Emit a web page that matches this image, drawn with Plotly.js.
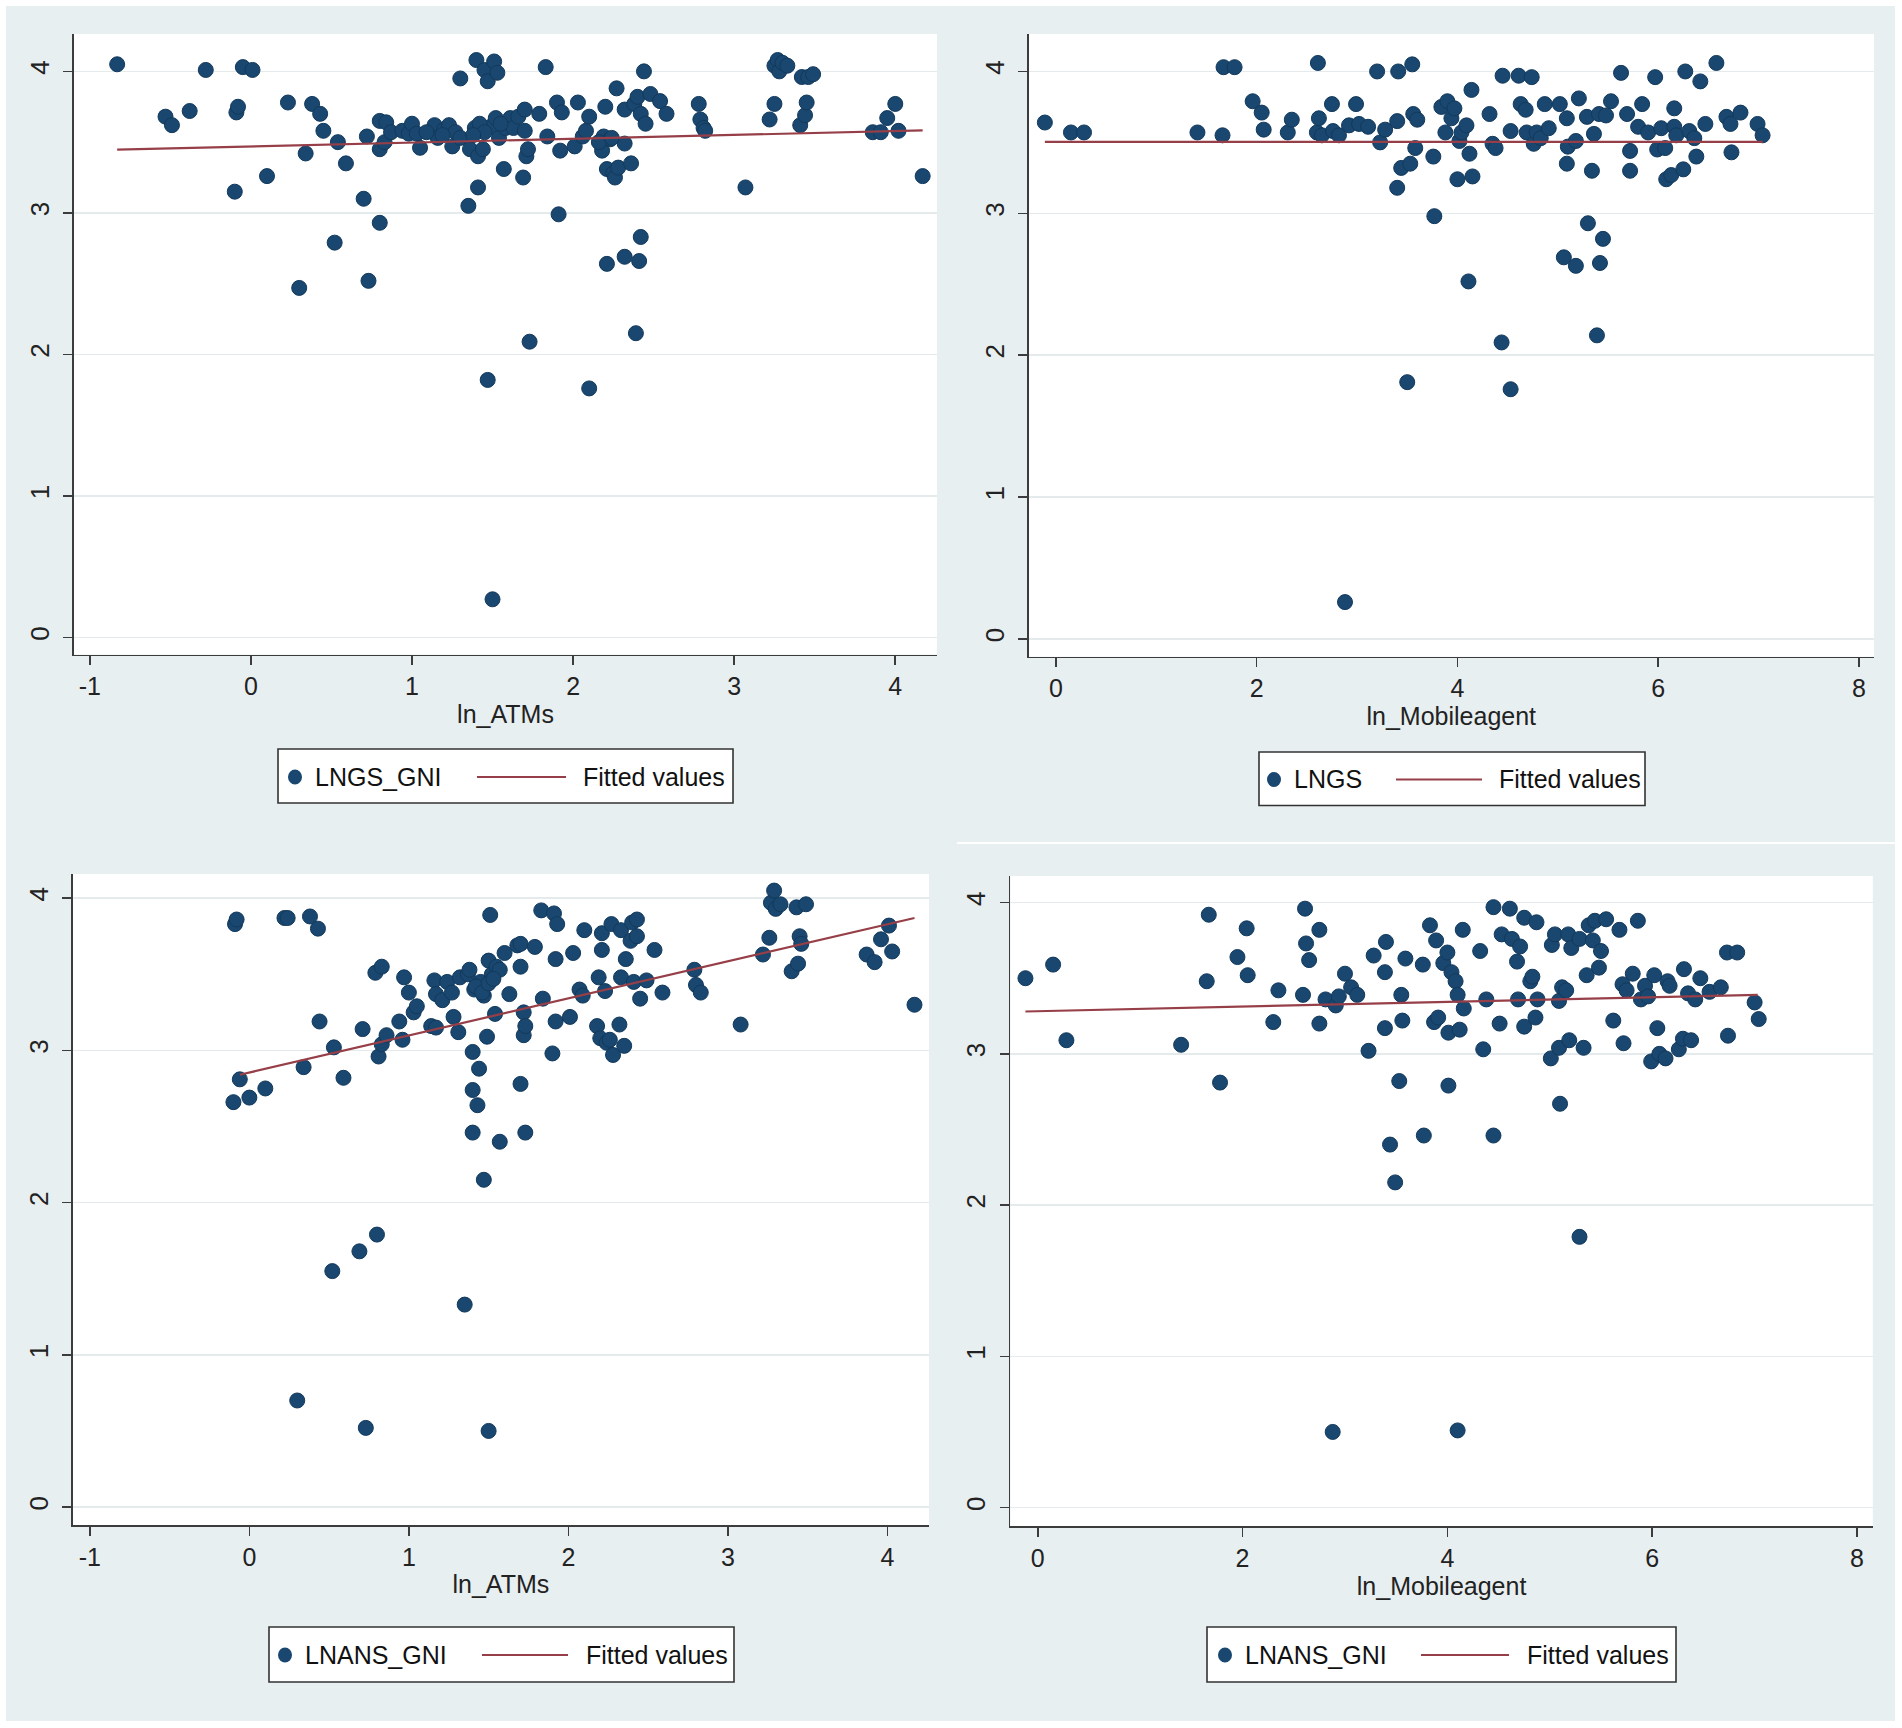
<!DOCTYPE html>
<html>
<head>
<meta charset="utf-8">
<script src="https://cdn.plot.ly/plotly-3.0.1.min.js"></script>
<style>html,body{margin:0;padding:0;background:#fff}#chart{width:1902px;height:1728px}</style>
</head>
<body>
<div id="chart"></div>
<script>
// ---------- DATA ----------
// Top-left: LNGS_GNI vs ln_ATMs
const tlX = [-0.83,-0.53,-0.49,-0.38,-0.28,-0.10,-0.09,-0.08,-0.05,0.01,
  0.10,0.23,0.30,0.34,0.38,0.43,0.45,0.52,0.54,0.59,
  0.70,0.72,0.73,0.80,0.80,0.80,0.83,0.84,0.87,0.94,
  0.98,1.00,1.03,1.05,1.14,1.16,1.20,1.23,1.25,1.27,
  1.30,1.30,1.35,1.36,1.39,1.40,1.41,1.41,1.43,1.44,
  1.45,1.47,1.47,1.49,1.50,1.51,1.52,1.53,1.54,1.57,
  1.58,1.61,1.63,1.66,1.69,1.70,1.70,1.71,1.72,1.73,
  1.79,1.83,1.84,1.90,1.91,1.92,1.93,2.01,2.03,2.06,
  2.08,2.10,2.10,2.18,2.19,2.20,2.21,2.21,2.23,2.25,
  2.26,2.27,2.28,2.32,2.32,2.32,2.36,2.38,2.39,2.40,
  2.41,2.42,2.42,2.44,2.45,2.48,2.54,2.58,2.78,2.79,
  2.81,2.82,3.07,3.22,3.25,3.25,3.27,3.28,3.30,3.33,
  3.41,3.42,3.44,3.45,3.46,3.49,3.86,3.91,3.95,4.00,
  4.02,4.17,
  1.42,1.45,1.55,1.38,1.09,1.19,2.16,2.24];
const tlY = [4.05,3.68,3.62,3.72,4.01,3.15,3.71,3.75,4.03,4.01,
  3.26,3.78,2.47,3.42,3.77,3.70,3.58,2.79,3.50,3.35,
  3.10,3.54,2.52,2.93,3.45,3.65,3.50,3.64,3.57,3.58,
  3.56,3.63,3.56,3.46,3.62,3.53,3.59,3.62,3.47,3.57,
  3.95,3.53,3.05,3.45,3.60,4.08,3.18,3.40,3.59,3.45,
  4.01,1.82,3.93,3.61,0.27,4.07,3.67,3.99,3.53,3.31,
  3.60,3.67,3.60,3.68,3.25,3.73,3.58,3.40,3.45,2.09,
  3.70,4.03,3.54,3.78,2.99,3.44,3.71,3.47,3.78,3.54,
  3.58,3.68,1.76,3.44,3.54,3.75,2.64,3.31,3.52,3.28,
  3.25,3.88,3.32,2.69,3.49,3.73,3.35,3.77,2.15,3.82,
  2.66,2.83,3.70,4.00,3.63,3.84,3.79,3.70,3.77,3.66,
  3.60,3.58,3.18,3.66,3.77,4.04,4.08,4.00,4.06,4.04,
  3.62,3.96,3.69,3.78,3.96,3.98,3.57,3.57,3.67,3.77,
  3.58,3.26,
  3.63,3.57,3.63,3.55,3.57,3.55,3.50,3.53];
const tlFitX = [-0.83, 4.17];
const tlFitY = [3.447, 3.583];

// Top-right: LNGS vs ln_Mobileagent
const trX = [-0.11,0.15,0.28,1.41,1.66,1.67,1.78,1.96,2.05,2.07,
  2.31,2.35,2.61,2.60,2.62,2.65,2.75,2.76,2.82,2.92,
  2.99,3.02,3.11,3.20,3.23,3.28,3.40,3.41,3.40,3.44,
  3.50,3.53,3.55,3.56,3.58,3.60,3.76,3.77,3.84,3.88,
  3.90,3.94,3.97,4.00,4.02,4.04,4.09,4.11,4.12,4.14,
  4.15,4.32,4.35,4.38,4.44,4.45,4.53,4.53,4.61,4.63,
  4.68,4.69,4.74,4.76,4.79,4.83,4.87,4.91,5.02,5.06,
  5.09,5.09,5.10,5.18,5.18,5.21,5.29,5.30,5.34,5.36,
  5.39,5.41,5.42,5.45,5.48,5.53,5.63,5.69,5.72,5.72,
  5.80,5.84,5.90,5.97,5.99,6.03,6.07,6.08,6.13,6.16,
  6.16,6.18,6.25,6.27,6.31,6.36,6.38,6.42,6.47,6.58,
  6.68,6.72,6.73,6.82,6.99,7.04,2.88];
const trY = [3.64,3.57,3.57,3.57,3.55,4.03,4.03,3.79,3.71,3.59,
  3.57,3.66,4.06,3.57,3.67,3.55,3.77,3.58,3.55,3.62,
  3.77,3.63,3.61,4.00,3.50,3.59,3.18,4.00,3.65,3.32,
  1.81,3.35,4.05,3.70,3.46,3.66,3.40,2.98,3.75,3.57,
  3.79,3.67,3.74,3.24,3.51,3.57,3.62,2.52,3.42,3.87,
  3.26,3.70,3.49,3.46,2.09,3.97,3.58,1.76,3.97,3.77,
  3.73,3.57,3.96,3.49,3.57,3.53,3.77,3.60,3.77,2.69,
  3.35,3.67,3.47,2.63,3.51,3.81,3.68,2.93,3.30,3.56,
  2.14,3.70,2.65,2.82,3.69,3.79,3.99,3.70,3.44,3.30,
  3.61,3.77,3.57,3.96,3.45,3.60,3.46,3.24,3.27,3.74,
  3.61,3.55,3.31,4.00,3.58,3.53,3.40,3.93,3.63,4.06,
  3.68,3.63,3.43,3.71,3.63,3.55,0.26];
const trFitX = [-0.11, 7.04];
const trFitY = [3.503, 3.503];

// Bottom-left: LNANS_GNI vs ln_ATMs
const blX = [-0.10,-0.09,-0.08,-0.06,0.00,0.10,0.22,0.24,0.30,0.34,
  0.38,0.43,0.44,0.52,0.53,0.59,0.69,0.71,0.73,0.79,
  0.80,0.81,0.83,0.83,0.86,0.94,0.96,0.97,1.00,1.03,
  1.05,1.14,1.16,1.17,1.17,1.21,1.24,1.27,1.28,1.31,
  1.32,1.35,1.37,1.38,1.40,1.40,1.40,1.41,1.43,1.44,
  1.45,1.47,1.47,1.49,1.50,1.51,1.50,1.52,1.54,1.55,
  1.57,1.57,1.60,1.63,1.68,1.70,1.70,1.70,1.72,1.72,
  1.73,1.73,1.79,1.83,1.84,1.90,1.91,1.92,1.92,1.93,
  2.01,2.03,2.07,2.09,2.10,2.18,2.19,2.20,2.21,2.21,
  2.23,2.24,2.26,2.27,2.28,2.32,2.33,2.33,2.35,2.36,
  2.39,2.40,2.41,2.43,2.43,2.45,2.49,2.54,2.59,2.79,
  2.80,2.83,3.08,3.22,3.26,3.27,3.29,3.30,3.33,3.40,
  3.43,3.44,3.45,3.46,3.49,3.87,3.92,3.96,4.01,4.03,4.17,
  1.42,1.46,1.50,1.53];
const blY = [2.66,3.83,3.86,2.81,2.69,2.75,3.87,3.87,0.70,2.89,
  3.88,3.80,3.19,1.55,3.02,2.82,1.68,3.14,0.52,3.51,
  1.79,2.96,3.04,3.55,3.10,3.19,3.07,3.48,3.38,3.25,
  3.29,3.16,3.46,3.15,3.37,3.33,3.45,3.38,3.22,3.12,
  3.48,1.33,3.50,3.53,2.99,2.74,2.46,3.40,2.64,2.88,
  3.45,2.15,3.36,3.09,0.50,3.89,3.59,3.50,3.24,3.55,
  2.40,3.53,3.64,3.37,3.69,2.78,3.55,3.70,3.25,3.10,
  2.46,3.16,3.68,3.92,3.34,2.98,3.90,3.19,3.60,3.83,
  3.22,3.64,3.40,3.36,3.79,3.16,3.48,3.08,3.66,3.77,
  3.39,3.05,3.07,3.83,2.97,3.17,3.48,3.79,3.03,3.60,
  3.72,3.84,3.45,3.75,3.86,3.34,3.46,3.66,3.38,3.53,
  3.43,3.38,3.17,3.63,3.74,3.97,4.05,3.93,3.96,3.52,
  3.94,3.57,3.75,3.70,3.96,3.63,3.58,3.73,3.82,3.65,3.30,
  3.42,3.38,3.44,3.47];
const blFitX = [-0.06, 4.17];
const blFitY = [2.84, 3.87];

// Bottom-right: LNANS_GNI vs ln_Mobileagent
const brX = [-0.12,0.15,0.28,1.40,1.65,1.67,1.78,1.95,2.04,2.05,
  2.30,2.35,2.59,2.61,2.62,2.65,2.75,2.75,2.81,2.88,
  2.91,2.94,3.00,3.06,3.12,3.23,3.28,3.39,3.39,3.40,
  3.44,3.49,3.53,3.55,3.56,3.59,3.76,3.77,3.83,3.87,
  3.89,3.91,3.96,4.00,4.01,4.01,4.04,4.08,4.10,4.10,
  4.12,4.15,4.16,4.32,4.35,4.38,4.45,4.45,4.51,4.53,
  4.61,4.63,4.68,4.69,4.71,4.75,4.75,4.81,4.83,4.87,
  4.86,4.88,5.01,5.02,5.05,5.09,5.09,5.10,5.12,5.16,
  5.18,5.19,5.21,5.29,5.29,5.33,5.36,5.38,5.42,5.44,
  5.48,5.50,5.55,5.62,5.68,5.71,5.72,5.75,5.81,5.86,
  5.89,5.93,5.96,5.99,6.02,6.05,6.07,6.13,6.15,6.17,
  6.26,6.30,6.31,6.35,6.38,6.42,6.47,6.56,6.67,6.73,
  6.74,6.83,7.00,7.04];
const brY = [3.50,3.59,3.09,3.06,3.48,3.92,2.81,3.64,3.83,3.52,
  3.21,3.42,3.39,3.96,3.73,3.62,3.20,3.82,3.36,0.50,
  3.32,3.38,3.53,3.44,3.39,3.02,3.65,3.17,3.54,3.74,
  2.40,2.15,2.82,3.39,3.22,3.63,3.59,2.46,3.85,3.21,
  3.75,3.24,3.60,3.67,2.79,3.14,3.54,3.48,3.39,0.51,
  3.16,3.82,3.30,3.68,3.03,3.36,3.97,2.46,3.20,3.79,
  3.96,3.76,3.61,3.36,3.71,3.18,3.90,3.48,3.51,3.87,
  3.24,3.36,2.97,3.72,3.79,3.35,3.04,2.67,3.44,3.42,
  3.79,3.09,3.70,1.79,3.76,3.04,3.52,3.85,3.75,3.88,
  3.57,3.68,3.89,3.22,3.82,3.46,3.07,3.42,3.53,3.88,
  3.36,3.45,3.38,2.95,3.52,3.17,3.00,2.97,3.48,3.45,
  3.03,3.10,3.56,3.40,3.09,3.36,3.50,3.41,3.44,3.67,
  3.12,3.67,3.34,3.23];
const brFitX = [-0.12, 7.03];
const brFitY = [3.28, 3.39];

// Labels
const xTitles = ['ln_ATMs', 'ln_Mobileagent', 'ln_ATMs', 'ln_Mobileagent'];
const seriesNames = ['LNGS_GNI', 'LNGS', 'LNANS_GNI', 'LNANS_GNI'];
const fitName = 'Fitted values';
const atmTicks = [-1, 0, 1, 2, 3, 4];
const mobTicks = [0, 2, 4, 6, 8];
const yTicks = [0, 1, 2, 3, 4];

// ---------- LAYOUT ----------
const W = 1902, H = 1728;
const px = v => v / W;
const py = v => 1 - v / H;

const NAVY = '#1a476f';
const NAVY_EDGE = '#12395c';
const MAROON = '#973f48';
const BG = '#e8eff1';
const AX = '#3c3c3c';
const FONT = '"Liberation Sans", Arial, Helvetica, sans-serif';

// panel boxes in pixels: [left, right, top, bottom], x range, y range
const panels = [
  {box:[74, 937, 34, 654.5],   xr:[-1.098, 4.259], yr:[-0.120, 4.264], xt: atmTicks,
   X: tlX, Y: tlY, FX: tlFitX, FY: tlFitY,
   leg:{box:[278,733,749,803], dot:295, txt:313, l0:477, l1:566, ftxt:581, cy:777}},
  {box:[1028.6, 1874, 34, 656.7], xr:[-0.272, 8.15], yr:[-0.125, 4.264], xt: mobTicks,
   X: trX, Y: trY, FX: trFitX, FY: trFitY,
   leg:{box:[1259,1645,752,805.5], dot:1274, txt:1292, l0:1396, l1:1482, ftxt:1497, cy:779.5}},
  {box:[72.8, 929, 874, 1525],  xr:[-1.107, 4.261], yr:[-0.118, 4.159], xt: atmTicks,
   X: blX, Y: blY, FX: blFitX, FY: blFitY,
   leg:{box:[269,734,1627,1682], dot:285, txt:303, l0:482, l1:568, ftxt:584, cy:1655}},
  {box:[1010.4, 1872.8, 876, 1526], xr:[-0.267, 8.154], yr:[-0.122, 4.176], xt: mobTicks,
   X: brX, Y: brY, FX: brFitX, FY: brFitY,
   leg:{box:[1207,1676,1627,1682], dot:1225, txt:1243, l0:1421, l1:1509, ftxt:1525, cy:1655}}
];

const data = [];
const layout = {
  width: W, height: H,
  margin: {l:0, r:0, t:0, b:0, pad:0},
  paper_bgcolor: BG,
  plot_bgcolor: '#ffffff',
  showlegend: false,
  font: {family: FONT, size: 25, color: '#222222'},
  shapes: [],
  annotations: []
};

panels.forEach((p, i) => {
  const n = i === 0 ? '' : String(i + 1);
  const xa = 'x' + n, ya = 'y' + n;
  data.push({
    type: 'scatter', mode: 'markers', x: p.X, y: p.Y, xaxis: xa, yaxis: ya,
    name: seriesNames[i],
    marker: {color: NAVY, size: 15, line: {width: 1, color: NAVY_EDGE}},
    cliponaxis: false
  });
  data.push({
    type: 'scatter', mode: 'lines', x: p.FX, y: p.FY, xaxis: xa, yaxis: ya,
    name: fitName,
    line: {color: MAROON, width: 2.2}
  });
  layout['xaxis' + n] = {
    domain: [px(p.box[0]), px(p.box[1])], anchor: ya, range: p.xr,
    tickmode: 'array', tickvals: p.xt, ticktext: p.xt.map(v => String(v)),
    showgrid: false, zeroline: false,
    showline: true, linecolor: AX, linewidth: 1.6,
    ticks: 'outside', ticklen: 9, tickwidth: 1.6, tickcolor: AX,
    tickfont: {size: 25, family: FONT, color: '#222'},
    title: {text: xTitles[i], font: {size: 25, family: FONT, color: '#222'}, standoff: 6},
    fixedrange: true
  };
  layout['yaxis' + n] = {
    domain: [py(p.box[3]), py(p.box[2])], anchor: xa, range: p.yr,
    tickmode: 'array', tickvals: yTicks, ticktext: yTicks.map(v => String(v)),
    showgrid: true, gridcolor: '#e5ebed', gridwidth: 1.6, zeroline: false,
    showline: true, linecolor: AX, linewidth: 1.6,
    ticks: 'outside', ticklen: 9, tickwidth: 1.6, tickcolor: AX,
    tickangle: -90, ticklabelstandoff: 4,
    tickfont: {size: 26, family: FONT, color: '#222'},
    fixedrange: true
  };

  // legend box (drawn in paper pixels)
  const L = p.leg;
  layout.shapes.push({type:'rect', xref:'paper', yref:'paper',
    x0: px(L.box[0]), x1: px(L.box[1]), y0: py(L.box[3]), y1: py(L.box[2]),
    line:{color:'#333', width:1.6}, fillcolor:'#ffffff', layer:'above'});
  layout.shapes.push({type:'circle', xref:'paper', yref:'paper',
    x0: px(L.dot - 7), x1: px(L.dot + 7), y0: py(L.cy + 7.5), y1: py(L.cy - 7.5),
    line:{width:0}, fillcolor: NAVY, layer:'above'});
  layout.shapes.push({type:'line', xref:'paper', yref:'paper',
    x0: px(L.l0), x1: px(L.l1), y0: py(L.cy), y1: py(L.cy),
    line:{color: MAROON, width:2.2}, layer:'above'});
  layout.annotations.push({xref:'paper', yref:'paper', x: px(L.txt), y: py(L.cy),
    xanchor:'left', yanchor:'middle', showarrow:false, text: seriesNames[i],
    font:{size:25, family:FONT, color:'#111'}});
  layout.annotations.push({xref:'paper', yref:'paper', x: px(L.ftxt), y: py(L.cy),
    xanchor:'left', yanchor:'middle', showarrow:false, text: fitName,
    font:{size:25, family:FONT, color:'#111'}});
});

// outer white frame and the faint white separator line
layout.shapes.push(
  {type:'rect', xref:'paper', yref:'paper', x0:0, x1:1, y0:py(6), y1:1, fillcolor:'#fff', line:{width:0}, layer:'above'},
  {type:'rect', xref:'paper', yref:'paper', x0:0, x1:1, y0:0, y1:py(1721), fillcolor:'#fff', line:{width:0}, layer:'above'},
  {type:'rect', xref:'paper', yref:'paper', x0:0, x1:px(6), y0:0, y1:1, fillcolor:'#fff', line:{width:0}, layer:'above'},
  {type:'rect', xref:'paper', yref:'paper', x0:px(1895), x1:1, y0:0, y1:1, fillcolor:'#fff', line:{width:0}, layer:'above'},
  {type:'line', xref:'paper', yref:'paper', x0:px(957), x1:px(1895), y0:py(843), y1:py(843), line:{color:'#ffffff', width:2}, layer:'above'}
);

Plotly.newPlot('chart', data, layout, {displayModeBar: false, staticPlot: true});
</script>
</body>
</html>
